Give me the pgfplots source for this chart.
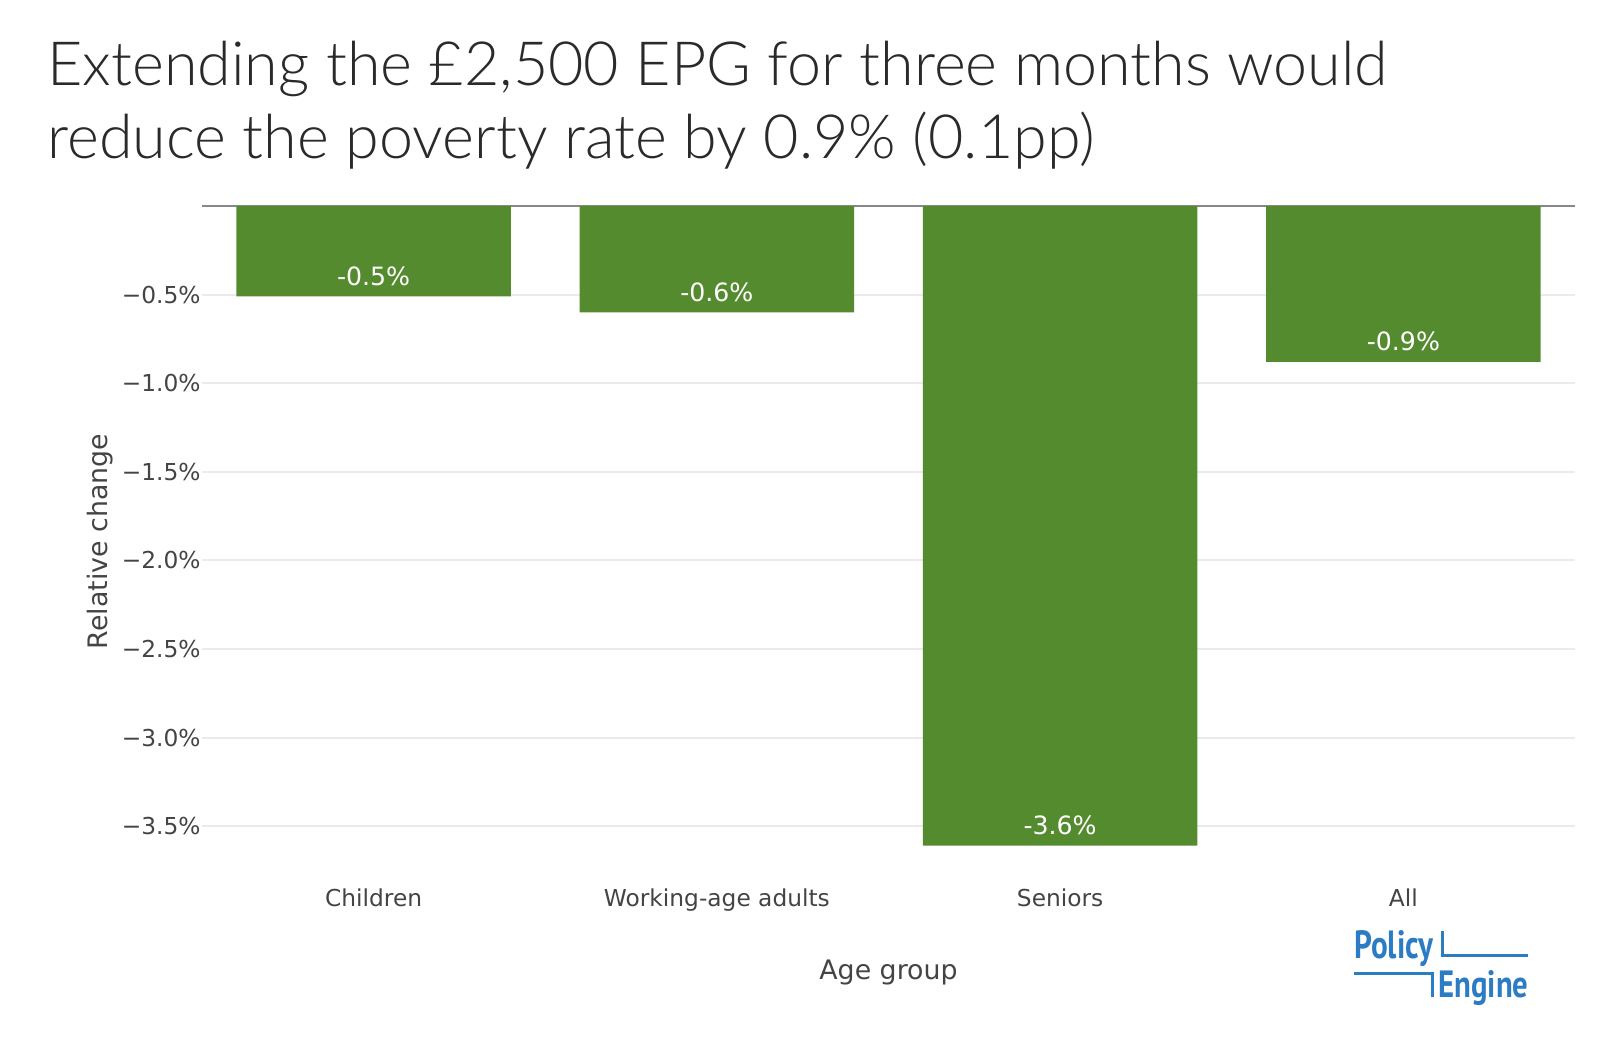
\documentclass[border=0pt]{standalone}
\usepackage{fontspec}
\setmainfont{DejaVu Sans}
\IfFontExistsTF{Lato Light}{\newfontfamily\titlefont{Lato Light}}{\newfontfamily\titlefont{Lato}}
\newfontfamily\logofont{PT Sans}
\usepackage{pgfplots}
\pgfplotsset{compat=1.18}
\definecolor{bargreen}{RGB}{85,139,47}
\definecolor{ticktext}{RGB}{68,68,68}
\definecolor{gridgray}{RGB}{235,235,235}
\definecolor{zerogray}{RGB}{136,136,136}
\definecolor{logoblue}{RGB}{44,124,196}
\definecolor{titletext}{RGB}{42,42,42}
\begin{document}
\begin{tikzpicture}
\path[use as bounding box] (0,0) rectangle (800pt,-519.5pt);
\node[anchor=base west, inner sep=0pt, text=titletext, font=\titlefont\fontsize{30.5pt}{36pt}\selectfont] at (23.5pt,-42.5pt) {Extending the £2,500 EPG for three months would};
\node[anchor=base west, inner sep=0pt, text=titletext, font=\titlefont\fontsize{30.5pt}{36pt}\selectfont] at (23.5pt,-79pt) {reduce the poverty rate by 0.9\% (0.1pp)};
\begin{axis}[
  at={(101pt,-438.5pt)}, anchor=south west,
  width=686.5pt, height=335.5pt, scale only axis,
  xmin=-0.5, xmax=3.5, ymin=-3.787, ymax=0,
  axis line style={draw=none},
  tick style={draw=none},
  xtick={0,1,2,3},
  xticklabels={Children,Working-age adults,Seniors,All},
  ytick={-3.5,-3,-2.5,-2,-1.5,-1,-0.5},
  yticklabels={−3.5\%,−3.0\%,−2.5\%,−2.0\%,−1.5\%,−1.0\%,−0.5\%},
  ymajorgrids, grid style={gridgray, line width=1pt},
  extra y ticks={0}, extra y tick labels={},
  extra y tick style={grid style={zerogray, line width=0.75pt}},
  ticklabel style={font=\fontsize{11.65pt}{13pt}\selectfont, text=ticktext},
  xticklabel style={anchor=base, yshift=-10.5pt, inner sep=0pt},
  yticklabel style={anchor=east, inner sep=0pt, xshift=-0.5pt},
  ybar, bar width=137.3pt, bar shift=0pt,
  point meta=explicit symbolic,
  nodes near coords,
  every node near coord/.append style={anchor=base, yshift=5.5pt, text=white, font=\fontsize{12.6pt}{14pt}\selectfont, inner sep=0pt},
  xlabel={Age group}, ylabel={Relative change},
  label style={font=\fontsize{13.4pt}{15pt}\selectfont, text=ticktext},
  xlabel style={at={(axis description cs:0.5,-0.152)}, anchor=base},
  ylabel style={at={(axis description cs:-0.0685,0.5)}, anchor=base},
]
\addplot[fill=bargreen, draw=none] coordinates {
  (0,-0.51) [-0.5\%]
  (1,-0.60) [-0.6\%]
  (2,-3.61) [-3.6\%]
  (3,-0.88) [-0.9\%]
};
\end{axis}
\draw[logoblue, line width=1.5pt] (721pt,-465.5pt) -- (721pt,-477.5pt) -- (764pt,-477.5pt);
\draw[logoblue, line width=1.5pt] (677pt,-486.5pt) -- (716pt,-486.5pt) -- (716pt,-498.5pt);
\node[anchor=base west, inner sep=0pt, text=logoblue] at (677pt,-479pt) {\resizebox{39.5pt}{14pt}{\logofont\bfseries Policy}};
\node[anchor=base west, inner sep=0pt, text=logoblue] at (719pt,-498.5pt) {\resizebox{45pt}{13.5pt}{\logofont\bfseries Engine}};
\end{tikzpicture}
\end{document}
